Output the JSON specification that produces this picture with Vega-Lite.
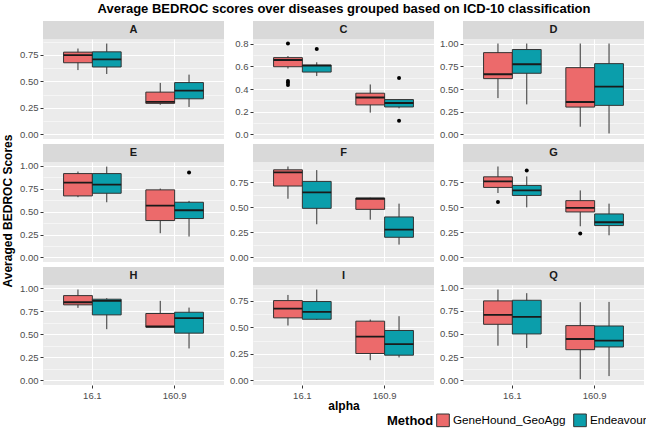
{
"$schema": "https://vega.github.io/schema/vega-lite/v6.json",
"padding": {"left": 1, "top": 3, "right": 3, "bottom": 2},
"title": {"text": "Average BEDROC scores over diseases grouped based on ICD-10 classification", "fontSize": 13, "fontWeight": "bold", "anchor": "middle", "color": "black", "offset": 5, "dx": 20},
"datasets": {
"ytitle": [{"t": "Averaged BEDROC Scores"}],
"strips": [{"panel":"A"},{"panel":"C"},{"panel":"D"},{"panel":"E"},{"panel":"F"},{"panel":"G"},{"panel":"H"},{"panel":"I"},{"panel":"Q"}],
"boxes": [
{"panel":"A","alpha":"16.1","Method":"GeneHound_GeoAgg","lo":0.607,"q1":0.676,"med":0.748,"q3":0.776,"hi":0.81},
{"panel":"A","alpha":"16.1","Method":"Endeavour","lo":0.57,"q1":0.636,"med":0.707,"q3":0.779,"hi":0.857},
{"panel":"A","alpha":"160.9","Method":"GeneHound_GeoAgg","lo":0.28,"q1":0.293,"med":0.308,"q3":0.399,"hi":0.486},
{"panel":"A","alpha":"160.9","Method":"Endeavour","lo":0.259,"q1":0.336,"med":0.414,"q3":0.489,"hi":0.564},
{"panel":"C","alpha":"16.1","Method":"GeneHound_GeoAgg","lo":0.58,"q1":0.596,"med":0.655,"q3":0.676,"hi":0.69},
{"panel":"C","alpha":"16.1","Method":"Endeavour","lo":0.514,"q1":0.549,"med":0.605,"q3":0.611,"hi":0.635},
{"panel":"C","alpha":"160.9","Method":"GeneHound_GeoAgg","lo":0.192,"q1":0.26,"med":0.325,"q3":0.363,"hi":0.44},
{"panel":"C","alpha":"160.9","Method":"Endeavour","lo":0.23,"q1":0.242,"med":0.277,"q3":0.307,"hi":0.31},
{"panel":"D","alpha":"16.1","Method":"GeneHound_GeoAgg","lo":0.40,"q1":0.614,"med":0.662,"q3":0.90,"hi":1.0},
{"panel":"D","alpha":"16.1","Method":"Endeavour","lo":0.331,"q1":0.673,"med":0.772,"q3":0.934,"hi":1.0},
{"panel":"D","alpha":"160.9","Method":"GeneHound_GeoAgg","lo":0.085,"q1":0.301,"med":0.357,"q3":0.735,"hi":1.0},
{"panel":"D","alpha":"160.9","Method":"Endeavour","lo":0.011,"q1":0.32,"med":0.526,"q3":0.779,"hi":1.0},
{"panel":"E","alpha":"16.1","Method":"GeneHound_GeoAgg","lo":0.656,"q1":0.67,"med":0.815,"q3":0.913,"hi":0.935},
{"panel":"E","alpha":"16.1","Method":"Endeavour","lo":0.601,"q1":0.699,"med":0.793,"q3":0.913,"hi":0.989},
{"panel":"E","alpha":"160.9","Method":"GeneHound_GeoAgg","lo":0.264,"q1":0.402,"med":0.565,"q3":0.736,"hi":0.75},
{"panel":"E","alpha":"160.9","Method":"Endeavour","lo":0.228,"q1":0.424,"med":0.514,"q3":0.601,"hi":0.616},
{"panel":"F","alpha":"16.1","Method":"GeneHound_GeoAgg","lo":0.587,"q1":0.714,"med":0.85,"q3":0.876,"hi":0.909},
{"panel":"F","alpha":"16.1","Method":"Endeavour","lo":0.332,"q1":0.491,"med":0.65,"q3":0.76,"hi":0.873},
{"panel":"F","alpha":"160.9","Method":"GeneHound_GeoAgg","lo":0.378,"q1":0.481,"med":0.587,"q3":0.594,"hi":0.597},
{"panel":"F","alpha":"160.9","Method":"Endeavour","lo":0.129,"q1":0.202,"med":0.279,"q3":0.405,"hi":0.538},
{"panel":"G","alpha":"16.1","Method":"GeneHound_GeoAgg","lo":0.644,"q1":0.70,"med":0.76,"q3":0.806,"hi":0.909},
{"panel":"G","alpha":"16.1","Method":"Endeavour","lo":0.501,"q1":0.62,"med":0.67,"q3":0.72,"hi":0.81},
{"panel":"G","alpha":"160.9","Method":"GeneHound_GeoAgg","lo":0.312,"q1":0.455,"med":0.495,"q3":0.568,"hi":0.67},
{"panel":"G","alpha":"160.9","Method":"Endeavour","lo":0.222,"q1":0.319,"med":0.352,"q3":0.435,"hi":0.538},
{"panel":"H","alpha":"16.1","Method":"GeneHound_GeoAgg","lo":0.787,"q1":0.82,"med":0.848,"q3":0.92,"hi":0.986},
{"panel":"H","alpha":"16.1","Method":"Endeavour","lo":0.556,"q1":0.711,"med":0.863,"q3":0.881,"hi":0.892},
{"panel":"H","alpha":"160.9","Method":"GeneHound_GeoAgg","lo":0.578,"q1":0.578,"med":0.585,"q3":0.726,"hi":0.863},
{"panel":"H","alpha":"160.9","Method":"Endeavour","lo":0.347,"q1":0.513,"med":0.675,"q3":0.74,"hi":0.79},
{"panel":"I","alpha":"16.1","Method":"GeneHound_GeoAgg","lo":0.518,"q1":0.59,"med":0.678,"q3":0.753,"hi":0.806},
{"panel":"I","alpha":"16.1","Method":"Endeavour","lo":0.57,"q1":0.577,"med":0.646,"q3":0.744,"hi":0.857},
{"panel":"I","alpha":"160.9","Method":"GeneHound_GeoAgg","lo":0.191,"q1":0.254,"med":0.414,"q3":0.559,"hi":0.574},
{"panel":"I","alpha":"160.9","Method":"Endeavour","lo":0.217,"q1":0.238,"med":0.342,"q3":0.471,"hi":0.606},
{"panel":"Q","alpha":"16.1","Method":"GeneHound_GeoAgg","lo":0.374,"q1":0.604,"med":0.705,"q3":0.856,"hi":0.978},
{"panel":"Q","alpha":"16.1","Method":"Endeavour","lo":0.349,"q1":0.50,"med":0.683,"q3":0.863,"hi":0.939},
{"panel":"Q","alpha":"160.9","Method":"GeneHound_GeoAgg","lo":0.014,"q1":0.331,"med":0.446,"q3":0.59,"hi":0.842},
{"panel":"Q","alpha":"160.9","Method":"Endeavour","lo":0.047,"q1":0.36,"med":0.428,"q3":0.586,"hi":0.845}
],
"outliers": [
{"panel":"C","alpha":"16.1","Method":"GeneHound_GeoAgg","value":0.80},
{"panel":"C","alpha":"16.1","Method":"GeneHound_GeoAgg","value":0.47},
{"panel":"C","alpha":"16.1","Method":"GeneHound_GeoAgg","value":0.455},
{"panel":"C","alpha":"16.1","Method":"GeneHound_GeoAgg","value":0.435},
{"panel":"C","alpha":"16.1","Method":"Endeavour","value":0.753},
{"panel":"C","alpha":"160.9","Method":"Endeavour","value":0.496},
{"panel":"C","alpha":"160.9","Method":"Endeavour","value":0.121},
{"panel":"E","alpha":"160.9","Method":"Endeavour","value":0.924},
{"panel":"G","alpha":"16.1","Method":"GeneHound_GeoAgg","value":0.554},
{"panel":"G","alpha":"16.1","Method":"Endeavour","value":0.87},
{"panel":"G","alpha":"160.9","Method":"GeneHound_GeoAgg","value":0.239}
]
},
"spacing": 4,
"hconcat": [
{"data": {"name": "ytitle"}, "width": 14, "height": 380, "mark": {"type": "text", "angle": 270, "fontWeight": "bold", "fontSize": 12, "color": "#000000"}, "encoding": {"text": {"field": "t", "type": "nominal"}}},
{"columns": 3,
"spacing": {"row": 5, "column": 5},
"resolve": {"scale": {"x": "independent", "y": "independent", "xOffset": "independent"}},
"concat": [
{"bounds": "flush", "spacing": 0, "vconcat": [
 {"data": {"name": "strips"}, "transform": [{"filter": "datum.panel == 'A'"}], "width": 181, "height": 18, "view": {"fill": "#D9D9D9", "stroke": null}, "mark": {"type": "text", "fontWeight": "bold", "fontSize": 11, "color": "#1A1A1A"}, "encoding": {"text": {"field": "panel", "type": "nominal"}}},
 {"width": 181, "height": 100, "view": {"fill": "#EBEBEB", "stroke": null},
  "encoding": {
   "x": {"field": "alpha", "type": "nominal", "scale": {"domain": ["16.1","160.9"], "paddingInner": 0.3, "paddingOuter": 0.25}, "axis": {"orient": "top", "labels": false, "ticks": false, "title": null, "grid": true, "bandPosition": 0.5}},
   "xOffset": {"field": "Method", "type": "nominal", "scale": {"domain": ["GeneHound_GeoAgg","Endeavour"], "paddingInner": 0, "paddingOuter": 0}}
  },
  "layer": [
   {"data": {"name": "boxes"}, "transform": [{"filter": "datum.panel == 'A'"}], "mark": {"type": "rule", "color": "#333333", "strokeWidth": 1},
    "encoding": {"y": {"field": "lo", "type": "quantitative", "title": null, "scale": {"domain": [-0.043, 0.9], "nice": false, "zero": false},
      "axis": {"values": [0,0.125,0.25,0.375,0.5,0.625,0.75,0.875], "tickCount": 20, "labelOverlap": false,
       "labelExpr": "abs(datum.value*4-round(datum.value*4))>0.01 ? '' : format(datum.value,'.2f')",
       "gridWidth": {"condition": {"test": "abs(datum.value*4-round(datum.value*4))>0.01", "value": 0.5}, "value": 1.1},
       "tickOpacity": {"condition": {"test": "abs(datum.value*4-round(datum.value*4))>0.01", "value": 0}, "value": 1}}},
     "y2": {"field": "hi"}}},
   {"data": {"name": "boxes"}, "transform": [{"filter": "datum.panel == 'A'"}], "mark": {"type": "bar", "stroke": "#333333", "strokeWidth": 1},
    "encoding": {"y": {"field": "q1", "type": "quantitative", "title": null, "scale": {"domain": [-0.043, 0.9], "nice": false, "zero": false}}, "y2": {"field": "q3"},
     "fill": {"field": "Method", "type": "nominal", "scale": {"domain": ["GeneHound_GeoAgg","Endeavour"], "range": ["#EC6A6B","#0B9EAB"]},
      "legend": {"orient": "none", "legendX": 386, "legendY": 392, "direction": "horizontal", "titleOrient": "left", "title": "Method", "titleFontSize": 13, "titleFontWeight": "bold", "titleColor": "black", "titlePadding": 2, "labelFontSize": 11.7, "labelColor": "black", "labelOffset": 3, "symbolType": "square", "symbolSize": 160, "symbolStrokeColor": "#333333", "symbolStrokeWidth": 1, "columnPadding": 5}}}},
   {"data": {"name": "boxes"}, "transform": [{"filter": "datum.panel == 'A'"}], "mark": {"type": "bar", "fill": "transparent", "stroke": "#1A1A1A", "strokeWidth": 1.8},
    "encoding": {"y": {"field": "med", "type": "quantitative", "title": null, "scale": {"domain": [-0.043, 0.9], "nice": false, "zero": false}}, "y2": {"field": "med"}}}
  ]}
]},
{"bounds": "flush", "spacing": 0, "vconcat": [
 {"data": {"name": "strips"}, "transform": [{"filter": "datum.panel == 'C'"}], "width": 181, "height": 18, "view": {"fill": "#D9D9D9", "stroke": null}, "mark": {"type": "text", "fontWeight": "bold", "fontSize": 11, "color": "#1A1A1A"}, "encoding": {"text": {"field": "panel", "type": "nominal"}}},
 {"width": 181, "height": 100, "view": {"fill": "#EBEBEB", "stroke": null},
  "encoding": {
   "x": {"field": "alpha", "type": "nominal", "scale": {"domain": ["16.1","160.9"], "paddingInner": 0.3, "paddingOuter": 0.25}, "axis": {"orient": "top", "labels": false, "ticks": false, "title": null, "grid": true, "bandPosition": 0.5}},
   "xOffset": {"field": "Method", "type": "nominal", "scale": {"domain": ["GeneHound_GeoAgg","Endeavour"], "paddingInner": 0, "paddingOuter": 0}}
  },
  "layer": [
   {"data": {"name": "boxes"}, "transform": [{"filter": "datum.panel == 'C'"}], "mark": {"type": "rule", "color": "#333333", "strokeWidth": 1},
    "encoding": {"y": {"field": "lo", "type": "quantitative", "title": null, "scale": {"domain": [-0.04, 0.84], "nice": false, "zero": false},
      "axis": {"values": [0,0.1,0.2,0.3,0.4,0.5,0.6,0.7,0.8], "tickCount": 20, "labelOverlap": false,
       "labelExpr": "abs(datum.value*5-round(datum.value*5))>0.01 ? '' : '\u2007' + format(datum.value,'.1f')",
       "gridWidth": {"condition": {"test": "abs(datum.value*5-round(datum.value*5))>0.01", "value": 0.5}, "value": 1.1},
       "tickOpacity": {"condition": {"test": "abs(datum.value*5-round(datum.value*5))>0.01", "value": 0}, "value": 1}}},
     "y2": {"field": "hi"}}},
   {"data": {"name": "boxes"}, "transform": [{"filter": "datum.panel == 'C'"}], "mark": {"type": "bar", "stroke": "#333333", "strokeWidth": 1},
    "encoding": {"y": {"field": "q1", "type": "quantitative", "title": null, "scale": {"domain": [-0.04, 0.84], "nice": false, "zero": false}}, "y2": {"field": "q3"},
     "fill": {"field": "Method", "type": "nominal", "scale": {"domain": ["GeneHound_GeoAgg","Endeavour"], "range": ["#EC6A6B","#0B9EAB"]}}}},
   {"data": {"name": "boxes"}, "transform": [{"filter": "datum.panel == 'C'"}], "mark": {"type": "bar", "fill": "transparent", "stroke": "#1A1A1A", "strokeWidth": 1.8},
    "encoding": {"y": {"field": "med", "type": "quantitative", "title": null, "scale": {"domain": [-0.04, 0.84], "nice": false, "zero": false}}, "y2": {"field": "med"}}},
   {"data": {"name": "outliers"}, "transform": [{"filter": "datum.panel == 'C'"}], "mark": {"type": "point", "filled": true, "color": "black", "size": 16, "opacity": 1},
    "encoding": {"y": {"field": "value", "type": "quantitative", "title": null, "scale": {"domain": [-0.04, 0.84], "nice": false, "zero": false}}}}
  ]}
]},
{"bounds": "flush", "spacing": 0, "vconcat": [
 {"data": {"name": "strips"}, "transform": [{"filter": "datum.panel == 'D'"}], "width": 181, "height": 18, "view": {"fill": "#D9D9D9", "stroke": null}, "mark": {"type": "text", "fontWeight": "bold", "fontSize": 11, "color": "#1A1A1A"}, "encoding": {"text": {"field": "panel", "type": "nominal"}}},
 {"width": 181, "height": 100, "view": {"fill": "#EBEBEB", "stroke": null},
  "encoding": {
   "x": {"field": "alpha", "type": "nominal", "scale": {"domain": ["16.1","160.9"], "paddingInner": 0.3, "paddingOuter": 0.25}, "axis": {"orient": "top", "labels": false, "ticks": false, "title": null, "grid": true, "bandPosition": 0.5}},
   "xOffset": {"field": "Method", "type": "nominal", "scale": {"domain": ["GeneHound_GeoAgg","Endeavour"], "paddingInner": 0, "paddingOuter": 0}}
  },
  "layer": [
   {"data": {"name": "boxes"}, "transform": [{"filter": "datum.panel == 'D'"}], "mark": {"type": "rule", "color": "#333333", "strokeWidth": 1},
    "encoding": {"y": {"field": "lo", "type": "quantitative", "title": null, "scale": {"domain": [-0.05, 1.05], "nice": false, "zero": false},
      "axis": {"values": [0,0.125,0.25,0.375,0.5,0.625,0.75,0.875,1], "tickCount": 20, "labelOverlap": false,
       "labelExpr": "abs(datum.value*4-round(datum.value*4))>0.01 ? '' : format(datum.value,'.2f')",
       "gridWidth": {"condition": {"test": "abs(datum.value*4-round(datum.value*4))>0.01", "value": 0.5}, "value": 1.1},
       "tickOpacity": {"condition": {"test": "abs(datum.value*4-round(datum.value*4))>0.01", "value": 0}, "value": 1}}},
     "y2": {"field": "hi"}}},
   {"data": {"name": "boxes"}, "transform": [{"filter": "datum.panel == 'D'"}], "mark": {"type": "bar", "stroke": "#333333", "strokeWidth": 1},
    "encoding": {"y": {"field": "q1", "type": "quantitative", "title": null, "scale": {"domain": [-0.05, 1.05], "nice": false, "zero": false}}, "y2": {"field": "q3"},
     "fill": {"field": "Method", "type": "nominal", "scale": {"domain": ["GeneHound_GeoAgg","Endeavour"], "range": ["#EC6A6B","#0B9EAB"]}}}},
   {"data": {"name": "boxes"}, "transform": [{"filter": "datum.panel == 'D'"}], "mark": {"type": "bar", "fill": "transparent", "stroke": "#1A1A1A", "strokeWidth": 1.8},
    "encoding": {"y": {"field": "med", "type": "quantitative", "title": null, "scale": {"domain": [-0.05, 1.05], "nice": false, "zero": false}}, "y2": {"field": "med"}}}
  ]}
]},
{"bounds": "flush", "spacing": 0, "vconcat": [
 {"data": {"name": "strips"}, "transform": [{"filter": "datum.panel == 'E'"}], "width": 181, "height": 18, "view": {"fill": "#D9D9D9", "stroke": null}, "mark": {"type": "text", "fontWeight": "bold", "fontSize": 11, "color": "#1A1A1A"}, "encoding": {"text": {"field": "panel", "type": "nominal"}}},
 {"width": 181, "height": 100, "view": {"fill": "#EBEBEB", "stroke": null},
  "encoding": {
   "x": {"field": "alpha", "type": "nominal", "scale": {"domain": ["16.1","160.9"], "paddingInner": 0.3, "paddingOuter": 0.25}, "axis": {"orient": "top", "labels": false, "ticks": false, "title": null, "grid": true, "bandPosition": 0.5}},
   "xOffset": {"field": "Method", "type": "nominal", "scale": {"domain": ["GeneHound_GeoAgg","Endeavour"], "paddingInner": 0, "paddingOuter": 0}}
  },
  "layer": [
   {"data": {"name": "boxes"}, "transform": [{"filter": "datum.panel == 'E'"}], "mark": {"type": "rule", "color": "#333333", "strokeWidth": 1},
    "encoding": {"y": {"field": "lo", "type": "quantitative", "title": null, "scale": {"domain": [-0.049, 1.039], "nice": false, "zero": false},
      "axis": {"values": [0,0.125,0.25,0.375,0.5,0.625,0.75,0.875,1], "tickCount": 20, "labelOverlap": false,
       "labelExpr": "abs(datum.value*4-round(datum.value*4))>0.01 ? '' : format(datum.value,'.2f')",
       "gridWidth": {"condition": {"test": "abs(datum.value*4-round(datum.value*4))>0.01", "value": 0.5}, "value": 1.1},
       "tickOpacity": {"condition": {"test": "abs(datum.value*4-round(datum.value*4))>0.01", "value": 0}, "value": 1}}},
     "y2": {"field": "hi"}}},
   {"data": {"name": "boxes"}, "transform": [{"filter": "datum.panel == 'E'"}], "mark": {"type": "bar", "stroke": "#333333", "strokeWidth": 1},
    "encoding": {"y": {"field": "q1", "type": "quantitative", "title": null, "scale": {"domain": [-0.049, 1.039], "nice": false, "zero": false}}, "y2": {"field": "q3"},
     "fill": {"field": "Method", "type": "nominal", "scale": {"domain": ["GeneHound_GeoAgg","Endeavour"], "range": ["#EC6A6B","#0B9EAB"]}}}},
   {"data": {"name": "boxes"}, "transform": [{"filter": "datum.panel == 'E'"}], "mark": {"type": "bar", "fill": "transparent", "stroke": "#1A1A1A", "strokeWidth": 1.8},
    "encoding": {"y": {"field": "med", "type": "quantitative", "title": null, "scale": {"domain": [-0.049, 1.039], "nice": false, "zero": false}}, "y2": {"field": "med"}}},
   {"data": {"name": "outliers"}, "transform": [{"filter": "datum.panel == 'E'"}], "mark": {"type": "point", "filled": true, "color": "black", "size": 16, "opacity": 1},
    "encoding": {"y": {"field": "value", "type": "quantitative", "title": null, "scale": {"domain": [-0.049, 1.039], "nice": false, "zero": false}}}}
  ]}
]},
{"bounds": "flush", "spacing": 0, "vconcat": [
 {"data": {"name": "strips"}, "transform": [{"filter": "datum.panel == 'F'"}], "width": 181, "height": 18, "view": {"fill": "#D9D9D9", "stroke": null}, "mark": {"type": "text", "fontWeight": "bold", "fontSize": 11, "color": "#1A1A1A"}, "encoding": {"text": {"field": "panel", "type": "nominal"}}},
 {"width": 181, "height": 100, "view": {"fill": "#EBEBEB", "stroke": null},
  "encoding": {
   "x": {"field": "alpha", "type": "nominal", "scale": {"domain": ["16.1","160.9"], "paddingInner": 0.3, "paddingOuter": 0.25}, "axis": {"orient": "top", "labels": false, "ticks": false, "title": null, "grid": true, "bandPosition": 0.5}},
   "xOffset": {"field": "Method", "type": "nominal", "scale": {"domain": ["GeneHound_GeoAgg","Endeavour"], "paddingInner": 0, "paddingOuter": 0}}
  },
  "layer": [
   {"data": {"name": "boxes"}, "transform": [{"filter": "datum.panel == 'F'"}], "mark": {"type": "rule", "color": "#333333", "strokeWidth": 1},
    "encoding": {"y": {"field": "lo", "type": "quantitative", "title": null, "scale": {"domain": [-0.045, 0.954], "nice": false, "zero": false},
      "axis": {"values": [0,0.125,0.25,0.375,0.5,0.625,0.75,0.875], "tickCount": 20, "labelOverlap": false,
       "labelExpr": "abs(datum.value*4-round(datum.value*4))>0.01 ? '' : format(datum.value,'.2f')",
       "gridWidth": {"condition": {"test": "abs(datum.value*4-round(datum.value*4))>0.01", "value": 0.5}, "value": 1.1},
       "tickOpacity": {"condition": {"test": "abs(datum.value*4-round(datum.value*4))>0.01", "value": 0}, "value": 1}}},
     "y2": {"field": "hi"}}},
   {"data": {"name": "boxes"}, "transform": [{"filter": "datum.panel == 'F'"}], "mark": {"type": "bar", "stroke": "#333333", "strokeWidth": 1},
    "encoding": {"y": {"field": "q1", "type": "quantitative", "title": null, "scale": {"domain": [-0.045, 0.954], "nice": false, "zero": false}}, "y2": {"field": "q3"},
     "fill": {"field": "Method", "type": "nominal", "scale": {"domain": ["GeneHound_GeoAgg","Endeavour"], "range": ["#EC6A6B","#0B9EAB"]}}}},
   {"data": {"name": "boxes"}, "transform": [{"filter": "datum.panel == 'F'"}], "mark": {"type": "bar", "fill": "transparent", "stroke": "#1A1A1A", "strokeWidth": 1.8},
    "encoding": {"y": {"field": "med", "type": "quantitative", "title": null, "scale": {"domain": [-0.045, 0.954], "nice": false, "zero": false}}, "y2": {"field": "med"}}}
  ]}
]},
{"bounds": "flush", "spacing": 0, "vconcat": [
 {"data": {"name": "strips"}, "transform": [{"filter": "datum.panel == 'G'"}], "width": 181, "height": 18, "view": {"fill": "#D9D9D9", "stroke": null}, "mark": {"type": "text", "fontWeight": "bold", "fontSize": 11, "color": "#1A1A1A"}, "encoding": {"text": {"field": "panel", "type": "nominal"}}},
 {"width": 181, "height": 100, "view": {"fill": "#EBEBEB", "stroke": null},
  "encoding": {
   "x": {"field": "alpha", "type": "nominal", "scale": {"domain": ["16.1","160.9"], "paddingInner": 0.3, "paddingOuter": 0.25}, "axis": {"orient": "top", "labels": false, "ticks": false, "title": null, "grid": true, "bandPosition": 0.5}},
   "xOffset": {"field": "Method", "type": "nominal", "scale": {"domain": ["GeneHound_GeoAgg","Endeavour"], "paddingInner": 0, "paddingOuter": 0}}
  },
  "layer": [
   {"data": {"name": "boxes"}, "transform": [{"filter": "datum.panel == 'G'"}], "mark": {"type": "rule", "color": "#333333", "strokeWidth": 1},
    "encoding": {"y": {"field": "lo", "type": "quantitative", "title": null, "scale": {"domain": [-0.045, 0.954], "nice": false, "zero": false},
      "axis": {"values": [0,0.125,0.25,0.375,0.5,0.625,0.75,0.875], "tickCount": 20, "labelOverlap": false,
       "labelExpr": "abs(datum.value*4-round(datum.value*4))>0.01 ? '' : format(datum.value,'.2f')",
       "gridWidth": {"condition": {"test": "abs(datum.value*4-round(datum.value*4))>0.01", "value": 0.5}, "value": 1.1},
       "tickOpacity": {"condition": {"test": "abs(datum.value*4-round(datum.value*4))>0.01", "value": 0}, "value": 1}}},
     "y2": {"field": "hi"}}},
   {"data": {"name": "boxes"}, "transform": [{"filter": "datum.panel == 'G'"}], "mark": {"type": "bar", "stroke": "#333333", "strokeWidth": 1},
    "encoding": {"y": {"field": "q1", "type": "quantitative", "title": null, "scale": {"domain": [-0.045, 0.954], "nice": false, "zero": false}}, "y2": {"field": "q3"},
     "fill": {"field": "Method", "type": "nominal", "scale": {"domain": ["GeneHound_GeoAgg","Endeavour"], "range": ["#EC6A6B","#0B9EAB"]}}}},
   {"data": {"name": "boxes"}, "transform": [{"filter": "datum.panel == 'G'"}], "mark": {"type": "bar", "fill": "transparent", "stroke": "#1A1A1A", "strokeWidth": 1.8},
    "encoding": {"y": {"field": "med", "type": "quantitative", "title": null, "scale": {"domain": [-0.045, 0.954], "nice": false, "zero": false}}, "y2": {"field": "med"}}},
   {"data": {"name": "outliers"}, "transform": [{"filter": "datum.panel == 'G'"}], "mark": {"type": "point", "filled": true, "color": "black", "size": 16, "opacity": 1},
    "encoding": {"y": {"field": "value", "type": "quantitative", "title": null, "scale": {"domain": [-0.045, 0.954], "nice": false, "zero": false}}}}
  ]}
]},
{"bounds": "flush", "spacing": 0, "vconcat": [
 {"data": {"name": "strips"}, "transform": [{"filter": "datum.panel == 'H'"}], "width": 181, "height": 18, "view": {"fill": "#D9D9D9", "stroke": null}, "mark": {"type": "text", "fontWeight": "bold", "fontSize": 11, "color": "#1A1A1A"}, "encoding": {"text": {"field": "panel", "type": "nominal"}}},
 {"width": 181, "height": 100, "view": {"fill": "#EBEBEB", "stroke": null},
  "encoding": {
   "x": {"field": "alpha", "type": "nominal", "scale": {"domain": ["16.1","160.9"], "paddingInner": 0.3, "paddingOuter": 0.25}, "axis": {"labelAngle": 0, "title": null, "grid": true, "bandPosition": 0.5, "labelPadding": 2}},
   "xOffset": {"field": "Method", "type": "nominal", "scale": {"domain": ["GeneHound_GeoAgg","Endeavour"], "paddingInner": 0, "paddingOuter": 0}}
  },
  "layer": [
   {"data": {"name": "boxes"}, "transform": [{"filter": "datum.panel == 'H'"}], "mark": {"type": "rule", "color": "#333333", "strokeWidth": 1},
    "encoding": {"y": {"field": "lo", "type": "quantitative", "title": null, "scale": {"domain": [-0.049, 1.035], "nice": false, "zero": false},
      "axis": {"values": [0,0.125,0.25,0.375,0.5,0.625,0.75,0.875,1], "tickCount": 20, "labelOverlap": false,
       "labelExpr": "abs(datum.value*4-round(datum.value*4))>0.01 ? '' : format(datum.value,'.2f')",
       "gridWidth": {"condition": {"test": "abs(datum.value*4-round(datum.value*4))>0.01", "value": 0.5}, "value": 1.1},
       "tickOpacity": {"condition": {"test": "abs(datum.value*4-round(datum.value*4))>0.01", "value": 0}, "value": 1}}},
     "y2": {"field": "hi"}}},
   {"data": {"name": "boxes"}, "transform": [{"filter": "datum.panel == 'H'"}], "mark": {"type": "bar", "stroke": "#333333", "strokeWidth": 1},
    "encoding": {"y": {"field": "q1", "type": "quantitative", "title": null, "scale": {"domain": [-0.049, 1.035], "nice": false, "zero": false}}, "y2": {"field": "q3"},
     "fill": {"field": "Method", "type": "nominal", "scale": {"domain": ["GeneHound_GeoAgg","Endeavour"], "range": ["#EC6A6B","#0B9EAB"]}}}},
   {"data": {"name": "boxes"}, "transform": [{"filter": "datum.panel == 'H'"}], "mark": {"type": "bar", "fill": "transparent", "stroke": "#1A1A1A", "strokeWidth": 1.8},
    "encoding": {"y": {"field": "med", "type": "quantitative", "title": null, "scale": {"domain": [-0.049, 1.035], "nice": false, "zero": false}}, "y2": {"field": "med"}}}
  ]}
]},
{"bounds": "flush", "spacing": 0, "vconcat": [
 {"data": {"name": "strips"}, "transform": [{"filter": "datum.panel == 'I'"}], "width": 181, "height": 18, "view": {"fill": "#D9D9D9", "stroke": null}, "mark": {"type": "text", "fontWeight": "bold", "fontSize": 11, "color": "#1A1A1A"}, "encoding": {"text": {"field": "panel", "type": "nominal"}}},
 {"width": 181, "height": 100, "view": {"fill": "#EBEBEB", "stroke": null},
  "encoding": {
   "x": {"field": "alpha", "type": "nominal", "scale": {"domain": ["16.1","160.9"], "paddingInner": 0.3, "paddingOuter": 0.25}, "axis": {"labelAngle": 0, "title": "alpha", "titlePadding": 1, "grid": true, "bandPosition": 0.5, "labelPadding": 2}},
   "xOffset": {"field": "Method", "type": "nominal", "scale": {"domain": ["GeneHound_GeoAgg","Endeavour"], "paddingInner": 0, "paddingOuter": 0}}
  },
  "layer": [
   {"data": {"name": "boxes"}, "transform": [{"filter": "datum.panel == 'I'"}], "mark": {"type": "rule", "color": "#333333", "strokeWidth": 1},
    "encoding": {"y": {"field": "lo", "type": "quantitative", "title": null, "scale": {"domain": [-0.043, 0.9], "nice": false, "zero": false},
      "axis": {"values": [0,0.125,0.25,0.375,0.5,0.625,0.75,0.875], "tickCount": 20, "labelOverlap": false,
       "labelExpr": "abs(datum.value*4-round(datum.value*4))>0.01 ? '' : format(datum.value,'.2f')",
       "gridWidth": {"condition": {"test": "abs(datum.value*4-round(datum.value*4))>0.01", "value": 0.5}, "value": 1.1},
       "tickOpacity": {"condition": {"test": "abs(datum.value*4-round(datum.value*4))>0.01", "value": 0}, "value": 1}}},
     "y2": {"field": "hi"}}},
   {"data": {"name": "boxes"}, "transform": [{"filter": "datum.panel == 'I'"}], "mark": {"type": "bar", "stroke": "#333333", "strokeWidth": 1},
    "encoding": {"y": {"field": "q1", "type": "quantitative", "title": null, "scale": {"domain": [-0.043, 0.9], "nice": false, "zero": false}}, "y2": {"field": "q3"},
     "fill": {"field": "Method", "type": "nominal", "scale": {"domain": ["GeneHound_GeoAgg","Endeavour"], "range": ["#EC6A6B","#0B9EAB"]}}}},
   {"data": {"name": "boxes"}, "transform": [{"filter": "datum.panel == 'I'"}], "mark": {"type": "bar", "fill": "transparent", "stroke": "#1A1A1A", "strokeWidth": 1.8},
    "encoding": {"y": {"field": "med", "type": "quantitative", "title": null, "scale": {"domain": [-0.043, 0.9], "nice": false, "zero": false}}, "y2": {"field": "med"}}}
  ]}
]},
{"bounds": "flush", "spacing": 0, "vconcat": [
 {"data": {"name": "strips"}, "transform": [{"filter": "datum.panel == 'Q'"}], "width": 181, "height": 18, "view": {"fill": "#D9D9D9", "stroke": null}, "mark": {"type": "text", "fontWeight": "bold", "fontSize": 11, "color": "#1A1A1A"}, "encoding": {"text": {"field": "panel", "type": "nominal"}}},
 {"width": 181, "height": 100, "view": {"fill": "#EBEBEB", "stroke": null},
  "encoding": {
   "x": {"field": "alpha", "type": "nominal", "scale": {"domain": ["16.1","160.9"], "paddingInner": 0.3, "paddingOuter": 0.25}, "axis": {"labelAngle": 0, "title": null, "grid": true, "bandPosition": 0.5, "labelPadding": 2}},
   "xOffset": {"field": "Method", "type": "nominal", "scale": {"domain": ["GeneHound_GeoAgg","Endeavour"], "paddingInner": 0, "paddingOuter": 0}}
  },
  "layer": [
   {"data": {"name": "boxes"}, "transform": [{"filter": "datum.panel == 'Q'"}], "mark": {"type": "rule", "color": "#333333", "strokeWidth": 1},
    "encoding": {"y": {"field": "lo", "type": "quantitative", "title": null, "scale": {"domain": [-0.049, 1.027], "nice": false, "zero": false},
      "axis": {"values": [0,0.125,0.25,0.375,0.5,0.625,0.75,0.875,1], "tickCount": 20, "labelOverlap": false,
       "labelExpr": "abs(datum.value*4-round(datum.value*4))>0.01 ? '' : format(datum.value,'.2f')",
       "gridWidth": {"condition": {"test": "abs(datum.value*4-round(datum.value*4))>0.01", "value": 0.5}, "value": 1.1},
       "tickOpacity": {"condition": {"test": "abs(datum.value*4-round(datum.value*4))>0.01", "value": 0}, "value": 1}}},
     "y2": {"field": "hi"}}},
   {"data": {"name": "boxes"}, "transform": [{"filter": "datum.panel == 'Q'"}], "mark": {"type": "bar", "stroke": "#333333", "strokeWidth": 1},
    "encoding": {"y": {"field": "q1", "type": "quantitative", "title": null, "scale": {"domain": [-0.049, 1.027], "nice": false, "zero": false}}, "y2": {"field": "q3"},
     "fill": {"field": "Method", "type": "nominal", "scale": {"domain": ["GeneHound_GeoAgg","Endeavour"], "range": ["#EC6A6B","#0B9EAB"]}}}},
   {"data": {"name": "boxes"}, "transform": [{"filter": "datum.panel == 'Q'"}], "mark": {"type": "bar", "fill": "transparent", "stroke": "#1A1A1A", "strokeWidth": 1.8},
    "encoding": {"y": {"field": "med", "type": "quantitative", "title": null, "scale": {"domain": [-0.049, 1.027], "nice": false, "zero": false}}, "y2": {"field": "med"}}}
  ]}
]}
]}
],
"config": {
 "font": "Liberation Sans",
 "view": {"stroke": null},
 "axis": {"domain": false, "grid": true, "gridColor": "#FFFFFF", "tickColor": "#333333", "tickSize": 3, "labelColor": "#4D4D4D", "labelFontSize": 9.5, "labelPadding": 2, "labelOverlap": false, "titleFontSize": 12, "titleFontWeight": "bold", "titleColor": "#000000"},
 "legend": {"labelFont": "Liberation Sans", "titleFont": "Liberation Sans"}
}
}
